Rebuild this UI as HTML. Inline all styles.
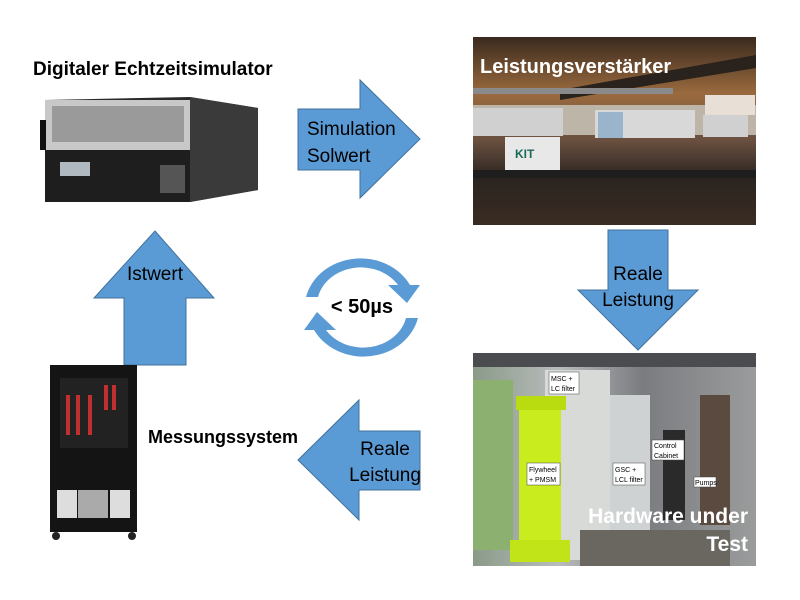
<!DOCTYPE html>
<html><head><meta charset="utf-8"><style>
body{margin:0;background:#fff;width:800px;height:600px;overflow:hidden}
svg{display:block}
text{font-family:"Liberation Sans",sans-serif}
</style></head><body>
<svg width="800" height="600" viewBox="0 0 800 600" xmlns="http://www.w3.org/2000/svg">
<defs>
<linearGradient id="tp" x1="0" y1="0" x2="0" y2="1">
<stop offset="0" stop-color="#3a2a1e"/><stop offset="0.3" stop-color="#9a6a3e"/><stop offset="0.55" stop-color="#6a5040"/><stop offset="0.75" stop-color="#2a2420"/><stop offset="1" stop-color="#3a2c22"/></linearGradient>
<linearGradient id="bp" x1="0" y1="0" x2="1" y2="0">
<stop offset="0" stop-color="#8a9a88"/><stop offset="0.3" stop-color="#b8bcbc"/><stop offset="0.6" stop-color="#7a7c80"/><stop offset="1" stop-color="#9a9c9c"/></linearGradient>
</defs>

<text x="33" y="75" font-size="19" font-weight="bold" fill="#000">Digitaler Echtzeitsimulator</text>

<polygon points="45,100 190,97 258,108 258,190 190,202 45,198" fill="#2a2a2a"/>
<rect x="45" y="100" width="145" height="50" fill="#c8c8c8"/>
<rect x="52" y="106" width="132" height="36" fill="#9a9a9a"/>
<rect x="45" y="150" width="145" height="52" fill="#1e1e1e"/>
<rect x="60" y="162" width="30" height="14" fill="#b0b8c0"/>
<rect x="160" y="165" width="25" height="28" fill="#555"/>
<polygon points="190,97 258,108 258,190 190,202" fill="#3a3a3a"/>
<rect x="40" y="120" width="6" height="30" fill="#111"/>

<polygon points="298,109 360,109 360,80 420,139 360,198 360,170 298,170" fill="#5b9bd5" stroke="#41719c" stroke-width="1"/>
<text x="307" y="135" font-size="19" fill="#000">Simulation</text>
<text x="307" y="162" font-size="19" fill="#000">Solwert</text>

<rect x="473" y="37" width="283" height="188" fill="url(#tp)"/>
<polygon points="560,90 756,55 756,68 560,100" fill="#2a221c"/>
<rect x="473" y="88" width="200" height="6" fill="#8a8a8a"/>
<rect x="473" y="105" width="283" height="30" fill="#bdb5a8"/>
<rect x="473" y="108" width="90" height="28" fill="#d0d0d0"/>
<rect x="595" y="110" width="100" height="28" fill="#d8d8d8"/>
<rect x="598" y="112" width="25" height="26" fill="#9ab4cc"/>
<rect x="703" y="115" width="45" height="22" fill="#d0d0d0"/>
<rect x="705" y="95" width="50" height="20" fill="#e8e0d6"/>
<rect x="505" y="137" width="55" height="38" fill="#e8e8e8"/>
<text x="515" y="158" font-size="12" font-weight="bold" fill="#1a6a5a">KIT</text>
<rect x="473" y="170" width="283" height="8" fill="#1e1e1e"/>
<text x="480" y="73" font-size="20" font-weight="bold" fill="#fff">Leistungsverstärker</text>

<polygon points="608,230 668,230 668,290 698,290 638,350 578,290 608,290" fill="#5b9bd5" stroke="#41719c" stroke-width="1"/>
<text x="638" y="280" font-size="19" fill="#000" text-anchor="middle">Reale</text>
<text x="638" y="306" font-size="19" fill="#000" text-anchor="middle">Leistung</text>

<polygon points="155,231 214,298 186,298 186,365 124,365 124,298 94,298" fill="#5b9bd5" stroke="#41719c" stroke-width="1"/>
<text x="155" y="280" font-size="19" fill="#000" text-anchor="middle">Istwert</text>

<path d="M306,297 A56,50 0 0 1 410,285 L420,285 L407,303 L388,285 L398,285 A44,38 0 0 0 318,297 Z" fill="#5b9bd5"/>
<path d="M418,318 A56,50 0 0 1 314,330 L304,330 L317,312 L336,330 L326,330 A44,38 0 0 0 406,318 Z" fill="#5b9bd5"/>
<text x="362" y="313" font-size="20" font-weight="bold" fill="#000" text-anchor="middle">&lt; 50µs</text>

<rect x="50" y="365" width="87" height="167" fill="#141414"/>
<rect x="60" y="378" width="68" height="70" fill="#222"/>
<g fill="#c03030"><rect x="66" y="395" width="4" height="40"/><rect x="76" y="395" width="4" height="40"/><rect x="88" y="395" width="4" height="40"/><rect x="104" y="385" width="4" height="25"/><rect x="112" y="385" width="4" height="25"/></g>
<rect x="57" y="490" width="20" height="28" fill="#ddd"/>
<rect x="78" y="490" width="30" height="28" fill="#aaa"/>
<rect x="110" y="490" width="20" height="28" fill="#ddd"/>
<circle cx="56" cy="536" r="4" fill="#222"/><circle cx="132" cy="536" r="4" fill="#222"/>
<text x="148" y="443" font-size="18" font-weight="bold" fill="#000">Messungssystem</text>

<polygon points="298,460 359,400 359,431 420,431 420,490 359,490 359,520" fill="#5b9bd5" stroke="#41719c" stroke-width="1"/>
<text x="385" y="455" font-size="19" fill="#000" text-anchor="middle">Reale</text>
<text x="385" y="481" font-size="19" fill="#000" text-anchor="middle">Leistung</text>

<rect x="473" y="353" width="283" height="213" fill="url(#bp)"/>
<rect x="473" y="353" width="283" height="14" fill="#4a4c50"/>
<rect x="473" y="380" width="40" height="170" fill="#8cb070"/>
<rect x="545" y="370" width="65" height="190" fill="#d8dad8"/>
<rect x="610" y="395" width="40" height="150" fill="#cfd2d2"/>
<rect x="663" y="430" width="22" height="90" fill="#2a2a2a"/>
<rect x="700" y="395" width="30" height="130" fill="#5a4a40"/>
<rect x="580" y="530" width="150" height="36" fill="#6a6660"/>
<rect x="519" y="402" width="42" height="138" fill="#c8ec1e"/>
<rect x="516" y="396" width="50" height="14" fill="#b8dc10"/>
<rect x="510" y="540" width="60" height="22" fill="#c0e418"/>
<g fill="#fff" stroke="#444" stroke-width="0.5">
<rect x="549" y="372" width="30" height="22"/><rect x="527" y="463" width="33" height="22"/>
<rect x="613" y="463" width="32" height="22"/><rect x="652" y="440" width="32" height="20"/>
<rect x="694" y="477" width="22" height="10"/></g>
<g font-size="7" fill="#000">
<text x="551" y="381">MSC +</text><text x="551" y="391">LC filter</text>
<text x="529" y="472">Flywheel</text><text x="529" y="482">+ PMSM</text>
<text x="615" y="472">GSC +</text><text x="615" y="482">LCL filter</text>
<text x="654" y="448">Control</text><text x="654" y="458">Cabinet</text>
<text x="695" y="485">Pumps</text></g>
<text x="748" y="523" font-size="21" font-weight="bold" fill="#fff" text-anchor="end">Hardware under</text>
<text x="748" y="551" font-size="21" font-weight="bold" fill="#fff" text-anchor="end">Test</text>
</svg>
</body></html>
